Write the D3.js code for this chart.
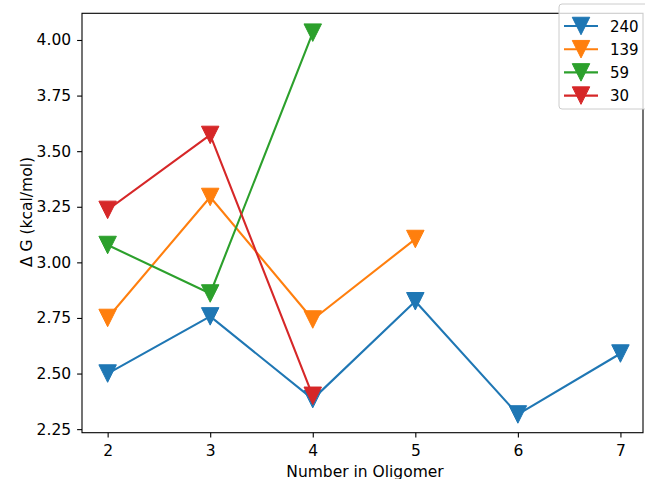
<!DOCTYPE html>
<html><head><meta charset="utf-8">
<script src="https://cdn.jsdelivr.net/npm/d3@7"></script>
<style>body{margin:0;background:#fff}svg{display:block}text{font-family:"DejaVu Sans",sans-serif;fill:#000}</style>
</head><body>
<svg id="chart" width="645" height="479"></svg>
<script>
const xTicks = [2, 3, 4, 5, 6, 7];
const yTicks = [2.25, 2.50, 2.75, 3.00, 3.25, 3.50, 3.75, 4.00];
const seriesNames = ["240", "139", "59", "30"];
const seriesColors = ["#1f77b4", "#ff7f0e", "#2ca02c", "#d62728"];
const x240 = [2, 3, 4, 5, 6, 7];
const y240 = [2.50, 2.757, 2.385, 2.825, 2.316, 2.59];
const x139 = [2, 3, 4, 5];
const y139 = [2.75, 3.294, 2.743, 3.105];
const x59 = [2, 3, 4];
const y59 = [3.078, 2.86, 4.033];
const x30 = [2, 3, 4];
const y30 = [3.236, 3.573, 2.40];
const xLabel = "Number in Oligomer";
const yLabel = "Δ G (kcal/mol)";

const series = [
  {name: seriesNames[0], color: seriesColors[0], pts: x240.map((d,i)=>[d,y240[i]])},
  {name: seriesNames[1], color: seriesColors[1], pts: x139.map((d,i)=>[d,y139[i]])},
  {name: seriesNames[2], color: seriesColors[2], pts: x59.map((d,i)=>[d,y59[i]])},
  {name: seriesNames[3], color: seriesColors[3], pts: x30.map((d,i)=>[d,y30[i]])}
];

const L = 82, R = 643, T = 13.3, B = 432.7;
const x = d3.scaleLinear().domain([1.75, 7.22]).range([L, R]);
const y = d3.scaleLinear().domain([2.234, 4.12]).range([B, T]);
const svg = d3.select("#chart");
const ms = 17.5;
const tri = `M0,${ms/2} L${-ms/2},${-ms/2} L${ms/2},${-ms/2} Z`;
const FS = "15.5px";

const g = svg.append("g");
const line = d3.line().x(d=>x(d[0])).y(d=>y(d[1]));
series.forEach(s => {
  const sg = g.append("g");
  sg.append("path").attr("d", line(s.pts)).attr("fill","none")
    .attr("stroke", s.color).attr("stroke-width", 2.1).attr("stroke-linejoin","round").attr("stroke-linecap","square");
  sg.selectAll("path.m").data(s.pts).enter().append("path").attr("class","m")
    .attr("d", tri).attr("transform", d=>`translate(${x(d[0])},${y(d[1])})`)
    .attr("fill", s.color).attr("stroke", s.color).attr("stroke-width", 1);
});

// axes
const xa = svg.append("g").attr("transform", `translate(0,${B})`)
  .call(d3.axisBottom(x).tickValues(xTicks).tickFormat(d3.format("d")).tickSize(4.9).tickPadding(7));
const ya = svg.append("g").attr("transform", `translate(${L},0)`)
  .call(d3.axisLeft(y).tickValues(yTicks).tickFormat(d3.format(".2f")).tickSize(4.9).tickPadding(6));
[xa, ya].forEach(a => {
  a.select(".domain").remove();
  a.selectAll("line").attr("stroke","#000").attr("stroke-width",1.1);
  a.selectAll("text").attr("font-size",FS).attr("font-family","DejaVu Sans").attr("fill","#000");
});
svg.append("rect").attr("x", L).attr("y", T).attr("width", R-L).attr("height", B-T)
  .attr("fill","none").attr("stroke","#000").attr("stroke-width",1.1);

svg.append("text").attr("x", 365).attr("y", 476.5).attr("text-anchor","middle")
  .attr("font-size",FS).text(xLabel);
svg.append("text").attr("transform", `translate(32,212) rotate(-90)`).attr("text-anchor","middle")
  .attr("font-size",FS).text(yLabel);

// legend
const lg = svg.append("g");
lg.append("rect").attr("x", 559).attr("y", 4).attr("width", 110).attr("height", 105).attr("rx", 3)
  .attr("fill","#fff").attr("fill-opacity",0.8).attr("stroke","#ccc").attr("stroke-width",1);
series.forEach((s, i) => {
  const cy = 26 + i*23.2;
  lg.append("line").attr("x1",564).attr("x2",598).attr("y1",cy).attr("y2",cy)
    .attr("stroke", s.color).attr("stroke-width",2.1);
  lg.append("path").attr("d", tri).attr("transform", `translate(581,${cy})`)
    .attr("fill", s.color).attr("stroke", s.color).attr("stroke-width",1);
  lg.append("text").attr("x", 610).attr("y", cy+5.5).attr("font-size","15px").text(s.name);
});
</script>
</body></html>
